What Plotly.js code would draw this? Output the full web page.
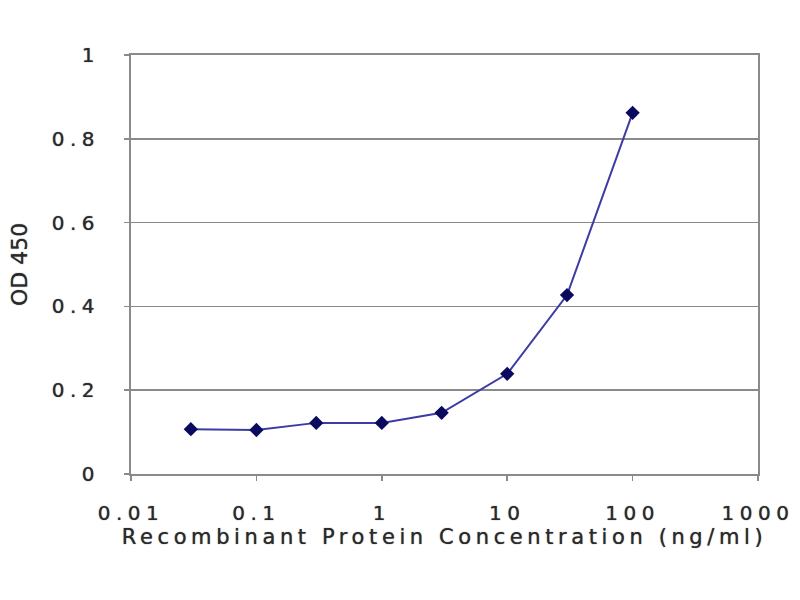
<!DOCTYPE html>
<html>
<head>
<meta charset="utf-8">
<script src="https://cdn.plot.ly/plotly-3.0.1.min.js"></script>
<style>
  html, body { margin: 0; padding: 0; background: #fff; }
  #chart { width: 800px; height: 600px; }
  .xtick text, .ytick text { letter-spacing: 5.5px; }
  .g-xtitle text { letter-spacing: 4.6px; }
</style>
</head>
<body>
<div id="chart"></div>
<script>
const concentration = [0.03, 0.1, 0.3, 1, 3, 10, 30, 100];
const od450 = [0.107, 0.105, 0.122, 0.122, 0.146, 0.239, 0.427, 0.862];
const xTickVals = [0.01, 0.1, 1, 10, 100, 1000];
const xTickText = ['0.01', '0.1', '1', '10', '100', '1000'];
const yTickVals = [0, 0.2, 0.4, 0.6, 0.8, 1];
const yTickText = ['0', '0.2', '0.4', '0.6', '0.8', '1'];

const trace = {
  x: concentration,
  y: od450,
  type: 'scatter',
  mode: 'lines+markers',
  line: { color: '#3c3ca4', width: 2 },
  marker: { symbol: 'diamond', size: 11, color: '#0a0a5e' },
  showlegend: false
};

const tickFont = { family: 'DejaVu Sans, Arial, sans-serif', size: 20, color: '#2a2a2a', shadow: '0px 0px 1px #555' };

const layout = {
  width: 800,
  height: 600,
  margin: { l: 131, r: 42, t: 55, b: 126 },
  paper_bgcolor: '#ffffff',
  plot_bgcolor: '#ffffff',
  xaxis: {
    type: 'log',
    range: [-2, 3],
    tickvals: xTickVals,
    ticktext: xTickText,
    ticks: 'outside',
    ticklen: 5,
    tickwidth: 1.5,
    tickcolor: '#8a8a8a',
    ticklabelstandoff: 15,
    showgrid: false,
    zeroline: false,
    showline: true,
    mirror: true,
    linecolor: '#8a8a8a',
    linewidth: 2,
    tickfont: tickFont,
    title: {
      text: 'Recombinant Protein Concentration (ng/ml)',
      font: { family: 'DejaVu Sans, Arial, sans-serif', size: 21, color: '#2a2a2a', shadow: '0px 0px 1px #555' },
      standoff: 4
    }
  },
  yaxis: {
    range: [0, 1],
    tickvals: yTickVals,
    ticktext: yTickText,
    ticks: 'outside',
    ticklen: 5,
    tickwidth: 1.5,
    tickcolor: '#8a8a8a',
    ticklabelstandoff: 20,
    showgrid: true,
    gridcolor: '#8a8a8a',
    gridwidth: 1.5,
    zeroline: false,
    showline: true,
    mirror: true,
    linecolor: '#8a8a8a',
    linewidth: 2,
    tickfont: tickFont,
    title: {
      text: 'OD 450',
      font: { family: 'DejaVu Sans, Arial, sans-serif', size: 22, color: '#2a2a2a', shadow: '0px 0px 1px #555' },
      standoff: 18
    }
  }
};

Plotly.newPlot('chart', [trace], layout, { displayModeBar: false, staticPlot: true });
</script>
</body>
</html>
